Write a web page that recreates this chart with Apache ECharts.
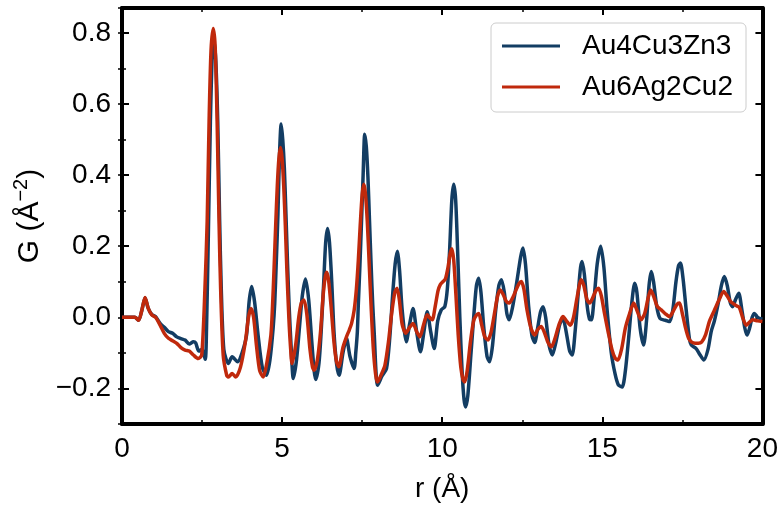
<!DOCTYPE html>
<html>
<head>
<meta charset="utf-8">
<script src="https://cdn.jsdelivr.net/npm/echarts@6/dist/echarts.min.js"></script>
<style>
html, body { margin: 0; padding: 0; background: #fff; }
#show { width: 781px; height: 512px; }
</style>
</head>
<body>
<div id="show"></div>
<script>
var myChart = echarts.init(document.getElementById("show"));

// Au4Cu3Zn3 (blue)
var rBlue = [0.0, 0.2, 0.4, 0.52, 0.62, 0.72, 0.82, 0.93, 1.05, 1.19, 1.32, 1.45, 1.58, 1.71, 1.84, 1.97, 2.10, 2.23, 2.30, 2.40, 2.50, 2.60,
    2.64, 2.70, 2.76, 2.82, 2.87, 2.93, 2.99, 3.05, 3.10, 3.18, 3.32, 3.44, 3.61, 3.75, 3.89, 3.97, 4.05, 4.14, 4.25, 4.38, 4.51,
    4.62, 4.72, 4.77, 4.82, 4.87, 4.92, 4.97, 5.02, 5.07, 5.12, 5.17, 5.22, 5.28, 5.35,
    5.45, 5.55, 5.63, 5.73, 5.83, 5.92, 6.00, 6.05,
    6.15, 6.22, 6.30, 6.36, 6.42, 6.48, 6.55, 6.62, 6.70, 6.78, 6.90, 7.01, 7.12, 7.25,
    7.30, 7.35, 7.38, 7.43, 7.48, 7.53, 7.58, 7.63, 7.68, 7.73, 7.78, 7.83, 7.88, 7.93, 7.98,
    8.12, 8.26, 8.36, 8.45, 8.53, 8.60, 8.67, 8.75, 8.88, 8.98, 9.09, 9.20, 9.32, 9.43, 9.53, 9.64, 9.75, 9.86, 9.97, 10.08,
    10.16, 10.23, 10.30, 10.36, 10.42, 10.48, 10.55, 10.62, 10.68, 10.73, 10.80, 10.90, 11.00, 11.07, 11.14, 11.21, 11.30, 11.40,
    11.48, 11.57, 11.67, 11.77, 11.85, 11.94, 12.02, 12.09, 12.20, 12.33, 12.45, 12.52, 12.60, 12.70, 12.80, 12.89, 12.98, 13.07,
    13.15, 13.23, 13.34, 13.44, 13.55, 13.67, 13.77, 13.87, 13.98, 14.06, 14.15, 14.25, 14.32, 14.37, 14.44, 14.53, 14.60, 14.66,
    14.74, 14.84, 14.95, 15.05, 15.15, 15.28, 15.40, 15.50, 15.62, 15.72, 15.82, 15.92, 16.01, 16.08, 16.18, 16.29, 16.38, 16.46,
    16.53, 16.60, 16.70, 16.80, 16.95, 17.10, 17.20, 17.30, 17.38, 17.44, 17.52, 17.62, 17.72, 17.78, 17.93, 18.05, 18.17, 18.30,
    18.40, 18.50, 18.62, 18.72, 18.81, 18.90, 19.00, 19.07, 19.16, 19.26, 19.36, 19.45, 19.52, 19.60, 19.68, 19.75, 19.85, 20.0];
var gBlue = [0.000, 0.000, 0.000, -0.008, 0.020, 0.055, 0.025, 0.008, 0.002, -0.017, -0.028, -0.040, -0.045, -0.055, -0.060, -0.064, -0.075, -0.069, -0.072, -0.095, -0.090, -0.118,
    -0.030, 0.250, 0.550, 0.740, 0.780, 0.720, 0.550, 0.270, 0.080, -0.090, -0.130, -0.111, -0.125, -0.100, -0.050, 0.044, 0.087, 0.044, -0.050, -0.140, -0.163,
    -0.120, -0.030, 0.040, 0.160, 0.290, 0.460, 0.544, 0.500, 0.420, 0.290, 0.150, 0.030, -0.080, -0.172,
    -0.120, -0.020, 0.060, 0.108, 0.050, -0.060, -0.150, -0.175,
    -0.130, -0.040, 0.100, 0.210, 0.250, 0.210, 0.100, -0.040, -0.130, -0.163, -0.100, -0.059, -0.110, -0.144,
    -0.100, -0.040, 0.036, 0.146, 0.270, 0.400, 0.515, 0.480, 0.395, 0.270, 0.146, 0.036, -0.050, -0.150, -0.191,
    -0.165, -0.144, -0.060, 0.060, 0.150, 0.186, 0.130, 0.020, -0.069, -0.020, 0.025, -0.040, -0.097, -0.040, 0.016, -0.040, -0.088, -0.010, 0.021, 0.030,
    0.080, 0.186, 0.330, 0.374, 0.330, 0.190, 0.000, -0.150, -0.230, -0.252, -0.220, -0.100, 0.020, 0.090, 0.110, 0.070, -0.030, -0.110,
    -0.125, -0.080, 0.020, 0.090, 0.106, 0.070, 0.010, -0.007, 0.030, 0.100, 0.170, 0.195, 0.150, 0.030, -0.050, -0.071, -0.030, 0.015,
    0.030, 0.000, -0.080, -0.106, -0.070, -0.020, -0.003, -0.040, -0.095, -0.106, -0.040, 0.070, 0.140, 0.157, 0.120, 0.030, -0.005, -0.007,
    0.050, 0.150, 0.200, 0.140, 0.020, -0.100, -0.160, -0.190, -0.196, -0.150, -0.060, 0.040, 0.096, 0.070, -0.030, -0.078, -0.010, 0.090,
    0.129, 0.100, 0.030, -0.003, -0.008, -0.012, 0.020, 0.100, 0.145, 0.153, 0.110, 0.020, -0.060, -0.078, -0.088, -0.105, -0.120, -0.090,
    -0.040, -0.010, 0.040, 0.090, 0.115, 0.090, 0.040, 0.030, 0.050, 0.068, 0.020, -0.030, -0.050, -0.030, 0.000, 0.011, 0.000, -0.005];

// Au6Ag2Cu2 (red)
var rRed = [0.0, 0.2, 0.4, 0.52, 0.62, 0.72, 0.82, 0.93, 1.05, 1.19, 1.32, 1.45, 1.58, 1.71, 1.84, 1.97, 2.10, 2.23, 2.38, 2.49,
    2.59, 2.66, 2.72, 2.78, 2.85, 2.91, 2.97, 3.03, 3.08, 3.16, 3.27, 3.32, 3.44, 3.55, 3.70, 3.85, 3.95, 4.03, 4.11, 4.20, 4.30, 4.41,
    4.52, 4.65, 4.70, 4.75, 4.80, 4.85, 4.90, 4.95, 5.00, 5.05, 5.10, 5.15, 5.21, 5.26, 5.31,
    5.42, 5.52, 5.60, 5.68, 5.77, 5.87, 5.95, 6.00,
    6.10, 6.20, 6.28, 6.34, 6.39, 6.45, 6.53, 6.62, 6.70, 6.77, 6.90, 7.01, 7.10, 7.17,
    7.25, 7.32, 7.38, 7.44, 7.50, 7.55, 7.60, 7.66, 7.72, 7.78, 7.85, 7.92, 7.98,
    8.10, 8.21, 8.32, 8.42, 8.52, 8.59, 8.66, 8.75, 8.86, 8.97, 9.09, 9.20, 9.30, 9.42, 9.53, 9.62, 9.69, 9.78, 9.87, 9.94, 10.02,
    10.10, 10.18, 10.25, 10.30, 10.36, 10.43, 10.50, 10.58, 10.65, 10.70, 10.78, 10.88, 10.98, 11.06, 11.14, 11.23, 11.33, 11.43,
    11.53, 11.63, 11.73, 11.81, 11.90, 12.00, 12.09, 12.20, 12.32, 12.40, 12.47, 12.55, 12.65, 12.77, 12.89, 12.98, 13.09, 13.18,
    13.30, 13.41, 13.52, 13.65, 13.77, 13.88, 14.00, 14.10, 14.22, 14.34, 14.42, 14.52, 14.60, 14.70, 14.80, 14.88, 14.97, 15.07,
    15.18, 15.30, 15.40, 15.49, 15.60, 15.72, 15.85, 15.98, 16.08, 16.21, 16.32, 16.42, 16.51, 16.60, 16.72, 16.84, 16.97, 17.10,
    17.20, 17.32, 17.41, 17.50, 17.60, 17.70, 17.78, 17.90, 18.00, 18.10, 18.22, 18.35, 18.50, 18.65, 18.79, 18.90, 19.00, 19.10,
    19.20, 19.28, 19.38, 19.49, 19.58, 19.70, 19.85, 20.0];
var gRed = [0.000, 0.000, 0.000, -0.008, 0.020, 0.056, 0.025, 0.007, 0.000, -0.022, -0.045, -0.059, -0.066, -0.073, -0.085, -0.092, -0.095, -0.106, -0.116, -0.106,
    0.080, 0.270, 0.553, 0.750, 0.812, 0.760, 0.553, 0.270, 0.080, -0.106, -0.163, -0.168, -0.158, -0.168, -0.140, -0.070, 0.000, 0.025, 0.000, -0.080, -0.150, -0.168,
    -0.130, -0.050, 0.030, 0.140, 0.260, 0.370, 0.447, 0.478, 0.447, 0.370, 0.260, 0.130, 0.000, -0.080, -0.130,
    -0.080, 0.000, 0.040, 0.049, 0.010, -0.090, -0.140, -0.149,
    -0.120, -0.040, 0.060, 0.110, 0.127, 0.105, 0.030, -0.070, -0.125, -0.139, -0.085, -0.055, -0.035, -0.017,
    0.020, 0.080, 0.160, 0.260, 0.345, 0.374, 0.350, 0.270, 0.150, 0.030, -0.090, -0.160, -0.182,
    -0.160, -0.135, -0.070, 0.010, 0.070, 0.082, 0.050, -0.020, -0.045, -0.030, -0.017, -0.040, -0.055, -0.020, 0.007, -0.002, -0.007, 0.030, 0.075, 0.092, 0.100,
    0.108, 0.140, 0.180, 0.193, 0.160, 0.060, -0.050, -0.140, -0.175, -0.182, -0.150, -0.070, -0.010, 0.005, 0.011, -0.020, -0.055, -0.064,
    -0.040, 0.010, 0.060, 0.077, 0.065, 0.045, 0.040, 0.055, 0.080, 0.095, 0.101, 0.080, 0.020, -0.030, -0.050, -0.035, -0.026, -0.040,
    -0.070, -0.083, -0.060, -0.020, 0.002, -0.010, -0.022, 0.000, 0.060, 0.106, 0.090, 0.050, 0.040, 0.055, 0.075, 0.082, 0.060, 0.010,
    -0.040, -0.090, -0.115, -0.120, -0.090, -0.030, 0.010, 0.040, 0.020, -0.007, 0.010, 0.050, 0.077, 0.060, 0.030, 0.021, 0.010, 0.002,
    0.015, 0.035, 0.040, 0.010, -0.030, -0.060, -0.069, -0.073, -0.073, -0.070, -0.050, -0.010, 0.020, 0.050, 0.073, 0.060, 0.045, 0.038,
    0.032, 0.028, 0.000, -0.022, -0.015, -0.007, -0.010, -0.012];

var seriesNames = ["Au4Cu3Zn3", "Au6Ag2Cu2"];
var seriesColors = ["#133d63", "#c0290c"];

function pairs(xs, ys) {
    return xs.map(function (x, i) { return [x, ys[i]]; });
}

var font = "Liberation Sans";
var tickMajor = { inside: true, length: 7, lineStyle: { color: "#000", width: 2 } };
var tickMinor = { inside: true, length: 4, lineStyle: { color: "#000", width: 1.5 } };
var frame = { show: true, onZero: false, lineStyle: { color: "#000", width: 4 } };

function yLabel(v) {
    var k = Math.round(v * 10);
    if (Math.abs(v * 10 - k) > 1e-6 || k % 2 !== 0) return "";
    return (v < 0 ? "\u2212" : "") + Math.abs(v).toFixed(1);
}

myChart.setOption({
    animation: false,
    grid: { left: 122, right: 18, top: 8, bottom: 88 },
    legend: {
        left: 491,
        top: 23,
        orient: "vertical",
        icon: "rect",
        itemWidth: 58,
        itemHeight: 3,
        itemGap: 13,
        padding: [9, 13, 11, 11],
        borderColor: "#cccccc",
        borderWidth: 1,
        borderRadius: 5,
        backgroundColor: "#fff",
        textStyle: { fontFamily: font, fontSize: 28, color: "#000", padding: [0, 0, 0, 17] },
        data: seriesNames
    },
    xAxis: [
        {
            type: "value", position: "bottom", min: 0, max: 20, interval: 5,
            axisLine: frame, axisTick: tickMajor,
            minorTick: { show: true, splitNumber: 2, length: 4, lineStyle: { color: "#000", width: 1.5 } },
            splitLine: { show: false }, minorSplitLine: { show: false },
            axisLabel: { margin: 11, fontFamily: font, fontSize: 28, color: "#000" },
            name: "r (Å)", nameLocation: "middle", nameGap: 51,
            nameTextStyle: { fontFamily: font, fontSize: 28, color: "#000" }
        },
        {
            type: "value", position: "top", min: 0, max: 20, interval: 5,
            axisLine: frame, axisTick: tickMajor,
            minorTick: { show: true, splitNumber: 2, length: 4, lineStyle: { color: "#000", width: 1.5 } },
            splitLine: { show: false }, axisLabel: { show: false }
        }
    ],
    yAxis: [
        {
            type: "value", position: "left", min: -0.3, max: 0.87, splitNumber: 6,
            axisLine: frame, axisTick: tickMajor, splitLine: { show: false },
            axisLabel: { margin: 11, fontFamily: font, fontSize: 28, color: "#000", formatter: yLabel },
            name: "G (Å{sup|\u22122})", nameLocation: "middle", nameGap: 72,
            nameTextStyle: {
                fontFamily: font, fontSize: 30, color: "#000",
                rich: { sup: { fontFamily: font, fontSize: 20, color: "#000", padding: [0, 0, 17, 0] } }
            }
        },
        {
            type: "value", position: "left", min: -0.3, max: 0.87, interval: 0.1,
            axisLine: { show: false }, axisTick: tickMinor, splitLine: { show: false }, axisLabel: { show: false }
        },
        {
            type: "value", position: "right", min: -0.3, max: 0.87, splitNumber: 6,
            axisLine: frame, axisTick: tickMajor, splitLine: { show: false }, axisLabel: { show: false }
        },
        {
            type: "value", position: "right", min: -0.3, max: 0.87, interval: 0.1,
            axisLine: { show: false }, axisTick: tickMinor, splitLine: { show: false }, axisLabel: { show: false }
        }
    ],
    series: [
        {
            name: seriesNames[0], type: "line", data: pairs(rBlue, gBlue),
            showSymbol: false, smooth: 0.25,
            lineStyle: { color: seriesColors[0], width: 3.5, join: "round" }, itemStyle: { color: seriesColors[0] }
        },
        {
            name: seriesNames[1], type: "line", data: pairs(rRed, gRed),
            showSymbol: false, smooth: 0.25,
            lineStyle: { color: seriesColors[1], width: 3.5, join: "round" }, itemStyle: { color: seriesColors[1] }
        }
    ]
});
</script>
</body>
</html>
